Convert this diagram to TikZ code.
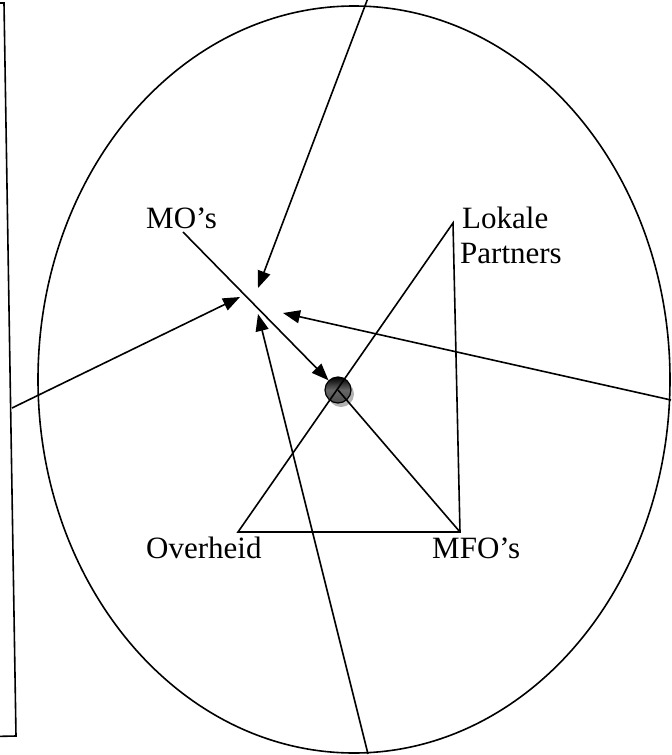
\documentclass[tikz,border=0pt]{standalone}
\usepackage{fontspec}
\setmainfont{Liberation Serif}
\usetikzlibrary{arrows.meta,shadows}
\begin{document}
\begin{tikzpicture}[x=1pt,y=-1pt,
  ln/.style={line width=1.6pt,line join=miter},
  arr/.style={ln,-{Triangle[length=17pt,width=13pt]}},
  lbl/.style={inner sep=0pt,anchor=base west,font=\fontsize{31}{35}\selectfont}]
\useasboundingbox (0,0) rectangle (672,755);
\begin{scope}
\clip (0,0) rectangle (672,755);
% left tilted frame
\draw[ln] (-30,3) -- (4,3) -- (16,736) -- (-30,737);
% ellipse
\draw[ln] (354,379.5) ellipse [x radius=316, y radius=373.5];
% coordinates
\coordinate (apex) at (453,223);
\coordinate (bl) at (238,532);
\coordinate (br) at (460,532);
\coordinate (mostart) at (183,232);
\coordinate (topstart) at (371,-10);
\coordinate (toptip) at (258,288);
\coordinate (leftstart) at (12,408);
\coordinate (lefttip) at (240,297);
\coordinate (botstart) at (368,754);
\coordinate (bottip) at (258,314);
\coordinate (rightstart) at (671,400);
\coordinate (righttip) at (283,313);
% dot
\node[circle,inner sep=0pt,minimum size=26pt,draw=black,line width=1.2pt,
  top color=black,bottom color=gray!60!black,middle color=gray!80!black,
  drop shadow={shadow xshift=3pt,shadow yshift=-4pt,fill=gray!60,opacity=1}]
  (dot) at (338,390) {};
% triangle
\draw[ln] (apex) -- (bl) -- (br) -- cycle;
\draw[ln] (dot.center) -- (br);
% arrows
\draw[arr] (mostart) -- (dot);
\draw[arr] (topstart) -- (toptip);
\draw[arr] (leftstart) -- (lefttip);
\draw[arr] (botstart) -- (bottip);
\draw[arr] (rightstart) -- (righttip);
\end{scope}
% labels
\node[lbl] (mo) at (146,228) {MO’s};
\node[lbl] (lok) at (462,228) {Lokale};
\node[lbl] (part) at (460,263) {Partners};
\node[lbl] (over) at (146,558) {Overheid};
\node[lbl] (mfo) at (432,558) {MFO’s};
\end{tikzpicture}
\end{document}
